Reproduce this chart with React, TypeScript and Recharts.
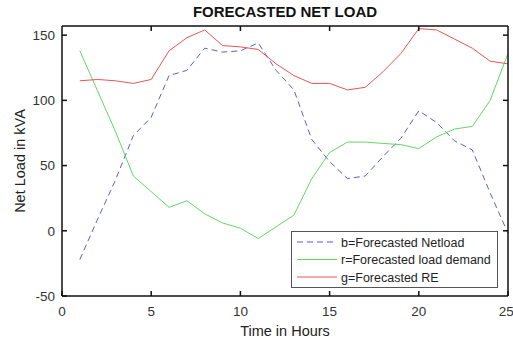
import React from 'react';
import { LineChart, Line, XAxis, YAxis, Label, ReferenceArea } from 'recharts';

const hours = [1, 2, 3, 4, 5, 6, 7, 8, 9, 10, 11, 12, 13, 14, 15, 16, 17, 18, 19, 20, 21, 22, 23, 24, 25];
const netload = [-22, 9, 39, 73, 87, 119, 123, 140, 137, 138, 144, 123, 108, 70, 53, 40, 42, 57, 71, 92, 83, 69, 62, 29, -2];
const demand = [138, 107, 76, 42, 30, 18, 23, 13, 6, 2, -6, 3, 12, 40, 60, 68, 68, 67, 66, 63, 72, 78, 80, 100, 136];
const re = [115, 116, 115, 113, 116, 138, 148, 154, 142, 141, 139, 128, 119, 113, 113, 108, 110, 122, 136, 155, 154, 147, 140, 130, 128];

const xTicks = [0, 5, 10, 15, 20, 25];
const yTicks = [-50, 0, 50, 100, 150];

const X_DOMAIN = [0, 25];
const Y_DOMAIN = [-50, 157];

const legendItems = [
  { label: 'b=Forecasted Netload', color: '#5c5cd4', dash: '6 4' },
  { label: 'r=Forecasted load demand', color: '#62d862', dash: undefined },
  { label: 'g=Forecasted RE', color: '#e85454', dash: undefined },
];

const data = hours.map((h, i) => ({ h, netload: netload[i], demand: demand[i], re: re[i] }));

const FONT = '"Liberation Sans", Arial, sans-serif';

// chart geometry (plot box)
const W = 513;
const H = 339;
const M = { top: 26, right: 5, bottom: 13, left: 0 };
const Y_AXIS_W = 62;
const X_AXIS_H = 30;
const PL = M.left + Y_AXIS_W;
const PR = W - M.right;
const PT = M.top;
const PB = H - M.bottom - X_AXIS_H;

const LegendBox = () => (
  <svg width={207} height={57} style={{ display: 'block', position: 'absolute', left: 291, top: 231 }}>
    <rect x={0.5} y={0.5} width={206} height={56} fill="#fff" stroke="#555" strokeWidth={1} />
    {legendItems.map((it, i) => {
      const y = 11 + i * 17.5;
      return (
        <g key={it.label}>
          <line x1={6} x2={46} y1={y} y2={y} stroke={it.color} strokeWidth={1} strokeDasharray={it.dash} />
          <text x={50} y={y + 4.5} fontSize={12.5} fontFamily={FONT} fill="#222">{it.label}</text>
        </g>
      );
    })}
  </svg>
);

// top and right edges of the box frame with inward ticks (MATLAB "box on")
const FrameBox = () => {
  const sx = (v: number) => PL + ((v - X_DOMAIN[0]) / (X_DOMAIN[1] - X_DOMAIN[0])) * (PR - PL);
  const sy = (v: number) => PB - ((v - Y_DOMAIN[0]) / (Y_DOMAIN[1] - Y_DOMAIN[0])) * (PB - PT);
  return (
    <svg width={W} height={H} style={{ position: 'absolute', left: 0, top: 0, pointerEvents: 'none' }}>
      <line x1={PL} x2={PR} y1={PT} y2={PT} stroke="#111" strokeWidth={1.5} />
      <line x1={PR} x2={PR} y1={PT} y2={PB} stroke="#111" strokeWidth={1.5} />
      {xTicks.slice(1, -1).map((t) => (
        <line key={'tx' + t} x1={sx(t)} x2={sx(t)} y1={PT} y2={PT + 5} stroke="#111" strokeWidth={1.5} />
      ))}
      {yTicks.slice(1).map((t) => (
        <line key={'ty' + t} x1={PR} x2={PR - 5} y1={sy(t)} y2={sy(t)} stroke="#111" strokeWidth={1.5} />
      ))}
    </svg>
  );
};

export default function App() {
  const tickStyle = { fontSize: 13.5, fontFamily: FONT, fill: '#333' };
  const axisLine = { stroke: '#111', strokeWidth: 1.5 };
  return (
    <div style={{ position: 'absolute', left: 0, top: 0, width: W, height: H, background: '#fff' }}>
      <LineChart width={W} height={H} data={data} margin={M}>
        <XAxis
          xAxisId="b"
          dataKey="h"
          type="number"
          domain={X_DOMAIN}
          ticks={xTicks}
          height={X_AXIS_H}
          tickSize={-5}
          tickMargin={15}
          tick={tickStyle}
          axisLine={axisLine}
          tickLine={axisLine}
        >
          <Label value="Time in Hours" position="bottom" offset={0} style={{ fontSize: 14.5, fontFamily: FONT, fill: '#222' }} />
        </XAxis>
        <YAxis
          yAxisId="l"
          type="number"
          domain={Y_DOMAIN}
          ticks={yTicks}
          width={Y_AXIS_W}
          tickSize={-5}
          tickMargin={12}
          tick={tickStyle}
          allowDataOverflow
          axisLine={axisLine}
          tickLine={axisLine}
        >
          <Label value="Net Load in kVA" angle={-90} position="insideLeft" offset={20} style={{ fontSize: 14.5, fontFamily: FONT, fill: '#222', textAnchor: 'middle' }} />
        </YAxis>
        <ReferenceArea
          xAxisId="b"
          yAxisId="l"
          x1={X_DOMAIN[0]}
          x2={X_DOMAIN[1]}
          y1={Y_DOMAIN[0]}
          y2={Y_DOMAIN[1]}
          fill="#fff"
          fillOpacity={0}
          strokeOpacity={0}
          ifOverflow="visible"
          label={{ value: 'FORECASTED NET LOAD', position: 'top', offset: 9, style: { fontSize: 15, fontWeight: 'bold', fontFamily: FONT, fill: '#111' } }}
        />
        <Line xAxisId="b" yAxisId="l" type="linear" dataKey="netload" stroke="#5c5cd4" strokeWidth={1} strokeDasharray="6 4" dot={false} isAnimationActive={false} />
        <Line xAxisId="b" yAxisId="l" type="linear" dataKey="demand" stroke="#62d862" strokeWidth={1} dot={false} isAnimationActive={false} />
        <Line xAxisId="b" yAxisId="l" type="linear" dataKey="re" stroke="#e85454" strokeWidth={1} dot={false} isAnimationActive={false} />
      </LineChart>
      <FrameBox />
      <LegendBox />
    </div>
  );
}
